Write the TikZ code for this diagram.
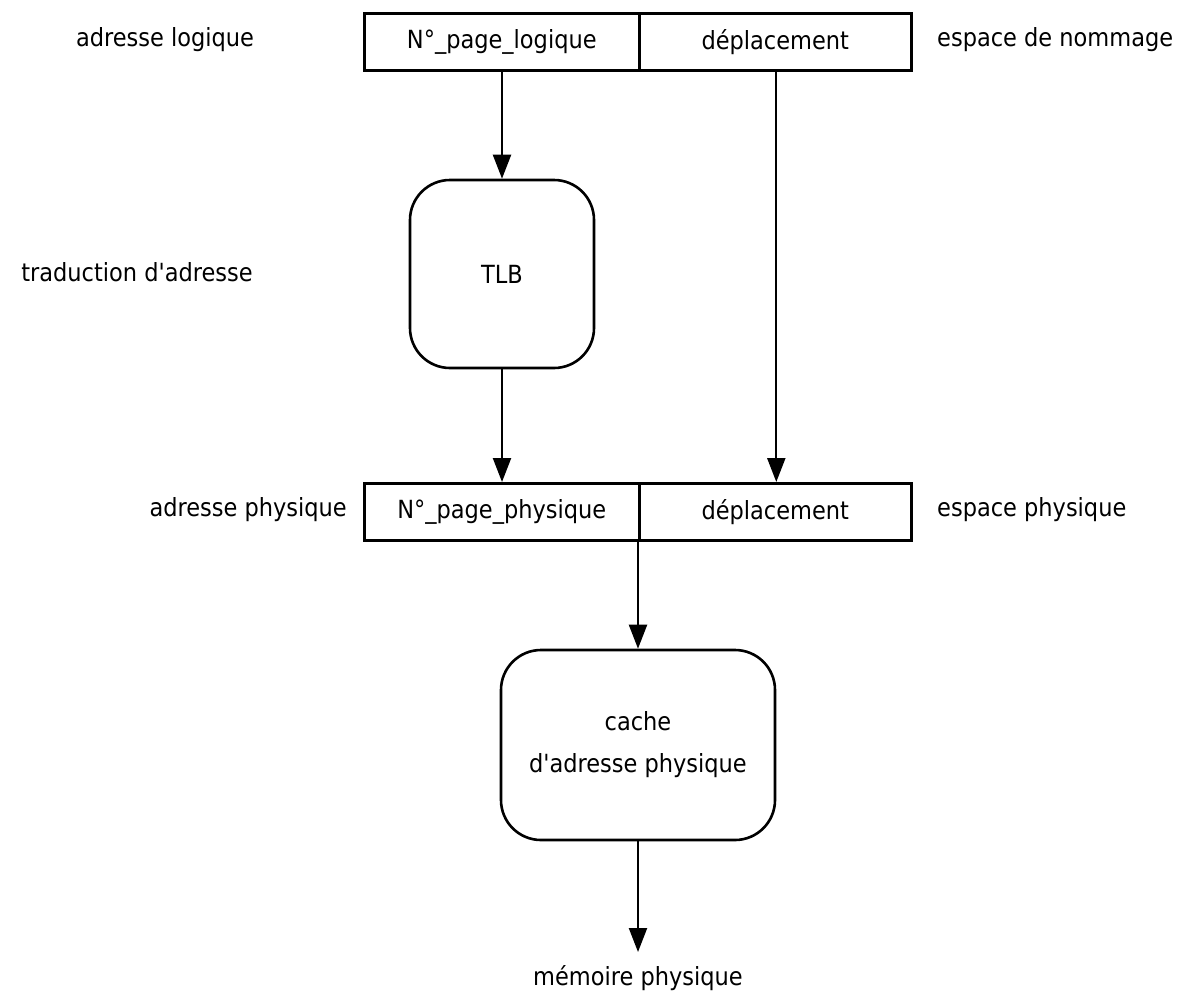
\documentclass[tikz,border=0pt]{standalone}
\usepackage{fontspec}
\newfontfamily\diagfont{DejaVu Sans Condensed}
\usetikzlibrary{arrows.meta}
\begin{document}
\begin{tikzpicture}[x=1pt,y=-1pt,
  every node/.style={font=\diagfont\fontsize{25}{30}\selectfont, inner sep=0pt},
  field/.style={draw, line width=2.6pt, minimum height=57pt, anchor=north west},
  proc/.style={draw, line width=2.6pt, rounded corners=40pt, align=center},
  flow/.style={draw, line width=2.2pt, -{Triangle[length=24pt,width=18pt]}}]
\useasboundingbox (0,0) rectangle (1185,999);
% logical address fields
\node[field, minimum width=275pt] (npl) at (363,12) {N°\_page\_logique};
\node[field, minimum width=272pt] (dpl) at (638,12) {déplacement};
% translation unit
\node[proc, minimum width=184pt, minimum height=188pt] (tlb) at (502,274) {TLB};
% physical address fields
\node[field, minimum width=275pt] (npp) at (363,482) {N°\_page\_physique};
\node[field, minimum width=272pt] (dpp) at (638,482) {déplacement};
% physical cache
\node[proc, minimum width=274pt, minimum height=190pt] (cache) at (638,745) {cache\\[12pt]d'adresse physique};
\coordinate (mem) at (638,952);
\node (memlbl) at (638,978) {mémoire physique};
% side labels
\node (l1) at (165,40) {adresse logique};
\node[anchor=west] (r1) at (937,40) {espace de nommage};
\node (l2) at (137,272) {traduction d'adresse};
\node[anchor=east] (l3) at (347,510) {adresse physique};
\node[anchor=west] (r3) at (937,510) {espace physique};
% connectors
\draw[flow] (npl.south -| tlb.north) -- (tlb.north);
\draw[flow] (tlb.south) -- (npp.north -| tlb.south);
\draw[flow] (dpl.south -| cache.east) -- (dpp.north -| cache.east);
\draw[flow] (npp.south -| cache.north) -- (cache.north);
\draw[flow] (cache.south) -- (mem);
\end{tikzpicture}
\end{document}
